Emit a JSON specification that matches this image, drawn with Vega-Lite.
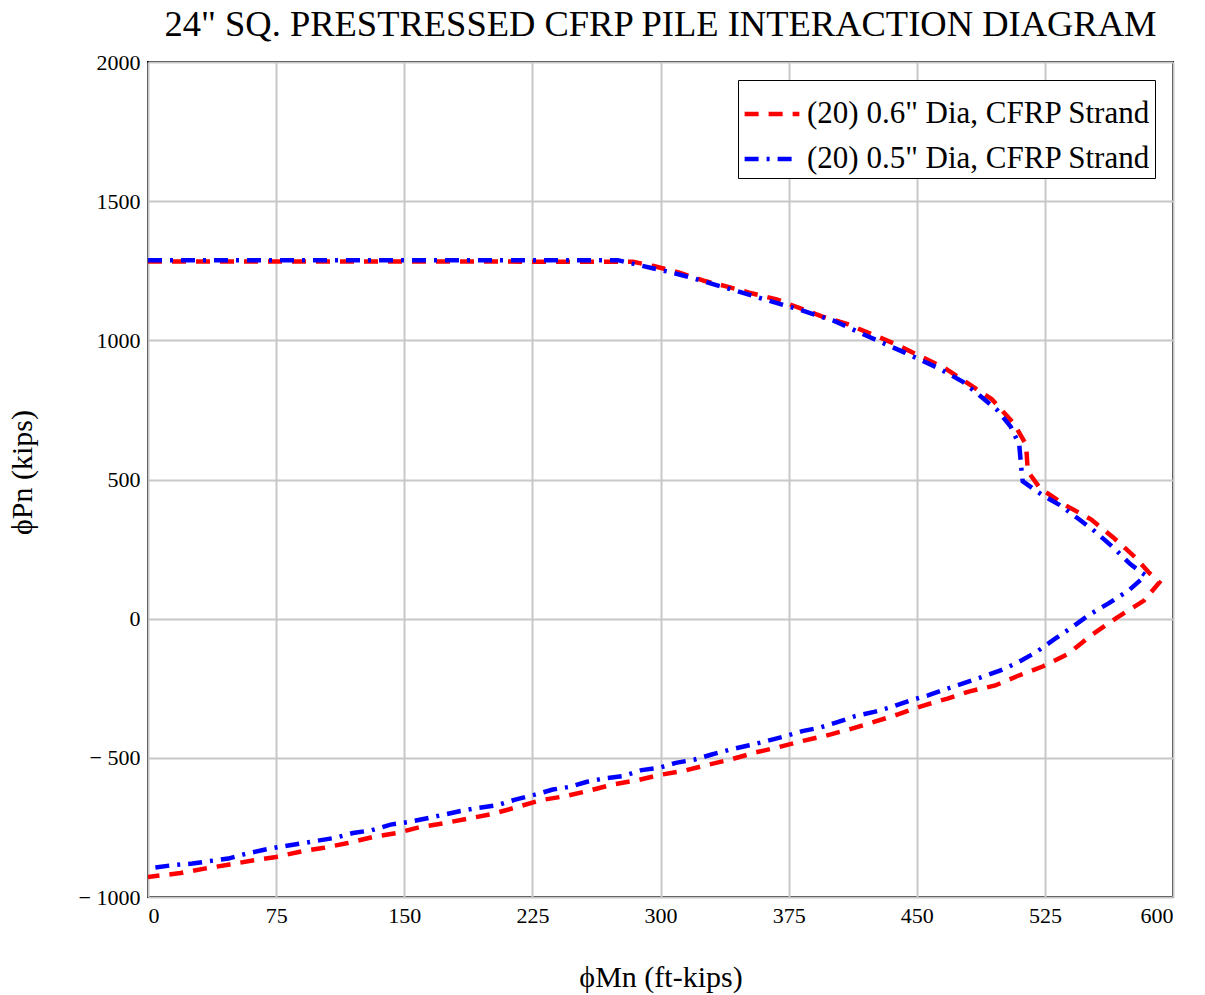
{
  "$schema": "https://vega.github.io/schema/vega-lite/v6.json",
  "width": 1025,
  "height": 835,
  "autosize": "none",
  "padding": {"left": 148, "top": 62, "right": 32, "bottom": 98},
  "background": "white",
  "title": {
    "text": "24\" SQ. PRESTRESSED CFRP PILE INTERACTION DIAGRAM",
    "font": "Liberation Serif",
    "fontSize": 36.5,
    "fontWeight": "normal",
    "color": "black",
    "anchor": "middle",
    "frame": "group",
    "offset": 8
  },
  "config": {
    "view": {"stroke": "black", "strokeWidth": 2},
    "axis": {
      "labelFont": "Liberation Serif",
      "labelFontSize": 22,
      "labelColor": "black",
      "titleFont": "Liberation Serif",
      "titleFontSize": 30,
      "titleFontWeight": "normal",
      "titleColor": "black",
      "gridColor": "#c8c8c8",
      "gridWidth": 2,
      "gridOpacity": 1,
      "domain": false,
      "ticks": false
    },
    "legend": {
      "orient": "top-right",
      "offset": 18,
      "title": null,
      "labelFont": "Liberation Serif",
      "labelFontSize": 31,
      "labelColor": "black",
      "labelLimit": 800,
      "labelOffset": 5,
      "symbolType": "stroke",
      "symbolSize": 3000,
      "symbolStrokeWidth": 4.5,
      "strokeColor": "black",
      "fillColor": "white",
      "padding": 4,
      "rowPadding": -20
    }
  },
  "data": {
    "values": [
      {"s": "(20) 0.6\" Dia, CFRP Strand", "i": 1, "x": 0, "y": 1283},
      {"s": "(20) 0.6\" Dia, CFRP Strand", "i": 2, "x": 100, "y": 1283},
      {"s": "(20) 0.6\" Dia, CFRP Strand", "i": 3, "x": 200, "y": 1283},
      {"s": "(20) 0.6\" Dia, CFRP Strand", "i": 4, "x": 284, "y": 1282},
      {"s": "(20) 0.6\" Dia, CFRP Strand", "i": 5, "x": 296, "y": 1267},
      {"s": "(20) 0.6\" Dia, CFRP Strand", "i": 6, "x": 311, "y": 1243},
      {"s": "(20) 0.6\" Dia, CFRP Strand", "i": 7, "x": 326, "y": 1213},
      {"s": "(20) 0.6\" Dia, CFRP Strand", "i": 8, "x": 338, "y": 1195},
      {"s": "(20) 0.6\" Dia, CFRP Strand", "i": 9, "x": 352, "y": 1171},
      {"s": "(20) 0.6\" Dia, CFRP Strand", "i": 10, "x": 368, "y": 1147},
      {"s": "(20) 0.6\" Dia, CFRP Strand", "i": 11, "x": 394, "y": 1087},
      {"s": "(20) 0.6\" Dia, CFRP Strand", "i": 12, "x": 410, "y": 1057},
      {"s": "(20) 0.6\" Dia, CFRP Strand", "i": 13, "x": 437, "y": 988},
      {"s": "(20) 0.6\" Dia, CFRP Strand", "i": 14, "x": 453, "y": 940},
      {"s": "(20) 0.6\" Dia, CFRP Strand", "i": 15, "x": 466, "y": 902},
      {"s": "(20) 0.6\" Dia, CFRP Strand", "i": 16, "x": 480, "y": 845},
      {"s": "(20) 0.6\" Dia, CFRP Strand", "i": 17, "x": 494, "y": 788},
      {"s": "(20) 0.6\" Dia, CFRP Strand", "i": 18, "x": 507, "y": 700},
      {"s": "(20) 0.6\" Dia, CFRP Strand", "i": 19, "x": 514, "y": 625},
      {"s": "(20) 0.6\" Dia, CFRP Strand", "i": 20, "x": 515, "y": 530},
      {"s": "(20) 0.6\" Dia, CFRP Strand", "i": 21, "x": 522, "y": 470},
      {"s": "(20) 0.6\" Dia, CFRP Strand", "i": 22, "x": 536, "y": 411},
      {"s": "(20) 0.6\" Dia, CFRP Strand", "i": 23, "x": 552, "y": 357},
      {"s": "(20) 0.6\" Dia, CFRP Strand", "i": 24, "x": 565, "y": 292},
      {"s": "(20) 0.6\" Dia, CFRP Strand", "i": 25, "x": 578, "y": 220},
      {"s": "(20) 0.6\" Dia, CFRP Strand", "i": 26, "x": 586, "y": 165},
      {"s": "(20) 0.6\" Dia, CFRP Strand", "i": 27, "x": 592, "y": 130},
      {"s": "(20) 0.6\" Dia, CFRP Strand", "i": 28, "x": 583, "y": 65},
      {"s": "(20) 0.6\" Dia, CFRP Strand", "i": 29, "x": 567, "y": 3},
      {"s": "(20) 0.6\" Dia, CFRP Strand", "i": 30, "x": 552, "y": -60},
      {"s": "(20) 0.6\" Dia, CFRP Strand", "i": 31, "x": 539, "y": -125},
      {"s": "(20) 0.6\" Dia, CFRP Strand", "i": 32, "x": 524, "y": -171},
      {"s": "(20) 0.6\" Dia, CFRP Strand", "i": 33, "x": 509, "y": -206},
      {"s": "(20) 0.6\" Dia, CFRP Strand", "i": 34, "x": 496, "y": -240},
      {"s": "(20) 0.6\" Dia, CFRP Strand", "i": 35, "x": 481, "y": -261},
      {"s": "(20) 0.6\" Dia, CFRP Strand", "i": 36, "x": 468, "y": -287},
      {"s": "(20) 0.6\" Dia, CFRP Strand", "i": 37, "x": 453, "y": -314},
      {"s": "(20) 0.6\" Dia, CFRP Strand", "i": 38, "x": 439, "y": -344},
      {"s": "(20) 0.6\" Dia, CFRP Strand", "i": 39, "x": 425, "y": -371},
      {"s": "(20) 0.6\" Dia, CFRP Strand", "i": 40, "x": 412, "y": -395},
      {"s": "(20) 0.6\" Dia, CFRP Strand", "i": 41, "x": 397, "y": -420},
      {"s": "(20) 0.6\" Dia, CFRP Strand", "i": 42, "x": 384, "y": -438},
      {"s": "(20) 0.6\" Dia, CFRP Strand", "i": 43, "x": 369, "y": -462},
      {"s": "(20) 0.6\" Dia, CFRP Strand", "i": 44, "x": 356, "y": -480},
      {"s": "(20) 0.6\" Dia, CFRP Strand", "i": 45, "x": 341, "y": -506},
      {"s": "(20) 0.6\" Dia, CFRP Strand", "i": 46, "x": 327, "y": -526},
      {"s": "(20) 0.6\" Dia, CFRP Strand", "i": 47, "x": 314, "y": -546},
      {"s": "(20) 0.6\" Dia, CFRP Strand", "i": 48, "x": 299, "y": -562},
      {"s": "(20) 0.6\" Dia, CFRP Strand", "i": 49, "x": 286, "y": -581},
      {"s": "(20) 0.6\" Dia, CFRP Strand", "i": 50, "x": 272, "y": -596},
      {"s": "(20) 0.6\" Dia, CFRP Strand", "i": 51, "x": 257, "y": -620},
      {"s": "(20) 0.6\" Dia, CFRP Strand", "i": 52, "x": 244, "y": -638},
      {"s": "(20) 0.6\" Dia, CFRP Strand", "i": 53, "x": 230, "y": -652},
      {"s": "(20) 0.6\" Dia, CFRP Strand", "i": 54, "x": 216, "y": -677},
      {"s": "(20) 0.6\" Dia, CFRP Strand", "i": 55, "x": 202, "y": -701},
      {"s": "(20) 0.6\" Dia, CFRP Strand", "i": 56, "x": 187, "y": -719},
      {"s": "(20) 0.6\" Dia, CFRP Strand", "i": 57, "x": 174, "y": -734},
      {"s": "(20) 0.6\" Dia, CFRP Strand", "i": 58, "x": 159, "y": -749},
      {"s": "(20) 0.6\" Dia, CFRP Strand", "i": 59, "x": 146, "y": -770},
      {"s": "(20) 0.6\" Dia, CFRP Strand", "i": 60, "x": 132, "y": -784},
      {"s": "(20) 0.6\" Dia, CFRP Strand", "i": 61, "x": 117, "y": -806},
      {"s": "(20) 0.6\" Dia, CFRP Strand", "i": 62, "x": 103, "y": -823},
      {"s": "(20) 0.6\" Dia, CFRP Strand", "i": 63, "x": 90, "y": -836},
      {"s": "(20) 0.6\" Dia, CFRP Strand", "i": 64, "x": 75, "y": -856},
      {"s": "(20) 0.6\" Dia, CFRP Strand", "i": 65, "x": 62, "y": -868},
      {"s": "(20) 0.6\" Dia, CFRP Strand", "i": 66, "x": 47, "y": -884},
      {"s": "(20) 0.6\" Dia, CFRP Strand", "i": 67, "x": 33, "y": -898},
      {"s": "(20) 0.6\" Dia, CFRP Strand", "i": 68, "x": 19, "y": -914},
      {"s": "(20) 0.6\" Dia, CFRP Strand", "i": 69, "x": 0, "y": -928},
      {"s": "(20) 0.5\" Dia, CFRP Strand", "i": 1, "x": 0, "y": 1288},
      {"s": "(20) 0.5\" Dia, CFRP Strand", "i": 2, "x": 100, "y": 1288},
      {"s": "(20) 0.5\" Dia, CFRP Strand", "i": 3, "x": 200, "y": 1288},
      {"s": "(20) 0.5\" Dia, CFRP Strand", "i": 4, "x": 275, "y": 1288},
      {"s": "(20) 0.5\" Dia, CFRP Strand", "i": 5, "x": 296, "y": 1258},
      {"s": "(20) 0.5\" Dia, CFRP Strand", "i": 6, "x": 307, "y": 1243},
      {"s": "(20) 0.5\" Dia, CFRP Strand", "i": 7, "x": 318, "y": 1225},
      {"s": "(20) 0.5\" Dia, CFRP Strand", "i": 8, "x": 338, "y": 1189},
      {"s": "(20) 0.5\" Dia, CFRP Strand", "i": 9, "x": 361, "y": 1147},
      {"s": "(20) 0.5\" Dia, CFRP Strand", "i": 10, "x": 381, "y": 1111},
      {"s": "(20) 0.5\" Dia, CFRP Strand", "i": 11, "x": 402, "y": 1069},
      {"s": "(20) 0.5\" Dia, CFRP Strand", "i": 12, "x": 423, "y": 1010},
      {"s": "(20) 0.5\" Dia, CFRP Strand", "i": 13, "x": 443, "y": 956},
      {"s": "(20) 0.5\" Dia, CFRP Strand", "i": 14, "x": 464, "y": 896},
      {"s": "(20) 0.5\" Dia, CFRP Strand", "i": 15, "x": 477, "y": 851},
      {"s": "(20) 0.5\" Dia, CFRP Strand", "i": 16, "x": 486, "y": 806},
      {"s": "(20) 0.5\" Dia, CFRP Strand", "i": 17, "x": 497, "y": 750},
      {"s": "(20) 0.5\" Dia, CFRP Strand", "i": 18, "x": 505, "y": 690},
      {"s": "(20) 0.5\" Dia, CFRP Strand", "i": 19, "x": 510, "y": 625},
      {"s": "(20) 0.5\" Dia, CFRP Strand", "i": 20, "x": 511, "y": 554},
      {"s": "(20) 0.5\" Dia, CFRP Strand", "i": 21, "x": 512, "y": 494},
      {"s": "(20) 0.5\" Dia, CFRP Strand", "i": 22, "x": 523, "y": 446},
      {"s": "(20) 0.5\" Dia, CFRP Strand", "i": 23, "x": 533, "y": 411},
      {"s": "(20) 0.5\" Dia, CFRP Strand", "i": 24, "x": 545, "y": 357},
      {"s": "(20) 0.5\" Dia, CFRP Strand", "i": 25, "x": 554, "y": 315},
      {"s": "(20) 0.5\" Dia, CFRP Strand", "i": 26, "x": 565, "y": 256},
      {"s": "(20) 0.5\" Dia, CFRP Strand", "i": 27, "x": 575, "y": 196},
      {"s": "(20) 0.5\" Dia, CFRP Strand", "i": 28, "x": 584, "y": 155},
      {"s": "(20) 0.5\" Dia, CFRP Strand", "i": 29, "x": 574, "y": 101},
      {"s": "(20) 0.5\" Dia, CFRP Strand", "i": 30, "x": 562, "y": 54},
      {"s": "(20) 0.5\" Dia, CFRP Strand", "i": 31, "x": 551, "y": 14},
      {"s": "(20) 0.5\" Dia, CFRP Strand", "i": 32, "x": 541, "y": -30},
      {"s": "(20) 0.5\" Dia, CFRP Strand", "i": 33, "x": 531, "y": -72},
      {"s": "(20) 0.5\" Dia, CFRP Strand", "i": 34, "x": 520, "y": -120},
      {"s": "(20) 0.5\" Dia, CFRP Strand", "i": 35, "x": 509, "y": -158},
      {"s": "(20) 0.5\" Dia, CFRP Strand", "i": 36, "x": 499, "y": -186},
      {"s": "(20) 0.5\" Dia, CFRP Strand", "i": 37, "x": 488, "y": -210},
      {"s": "(20) 0.5\" Dia, CFRP Strand", "i": 38, "x": 478, "y": -231},
      {"s": "(20) 0.5\" Dia, CFRP Strand", "i": 39, "x": 468, "y": -251},
      {"s": "(20) 0.5\" Dia, CFRP Strand", "i": 40, "x": 457, "y": -275},
      {"s": "(20) 0.5\" Dia, CFRP Strand", "i": 41, "x": 446, "y": -294},
      {"s": "(20) 0.5\" Dia, CFRP Strand", "i": 42, "x": 435, "y": -318},
      {"s": "(20) 0.5\" Dia, CFRP Strand", "i": 43, "x": 425, "y": -335},
      {"s": "(20) 0.5\" Dia, CFRP Strand", "i": 44, "x": 414, "y": -350},
      {"s": "(20) 0.5\" Dia, CFRP Strand", "i": 45, "x": 404, "y": -371},
      {"s": "(20) 0.5\" Dia, CFRP Strand", "i": 46, "x": 393, "y": -392},
      {"s": "(20) 0.5\" Dia, CFRP Strand", "i": 47, "x": 383, "y": -404},
      {"s": "(20) 0.5\" Dia, CFRP Strand", "i": 48, "x": 373, "y": -422},
      {"s": "(20) 0.5\" Dia, CFRP Strand", "i": 49, "x": 362, "y": -440},
      {"s": "(20) 0.5\" Dia, CFRP Strand", "i": 50, "x": 352, "y": -455},
      {"s": "(20) 0.5\" Dia, CFRP Strand", "i": 51, "x": 341, "y": -470},
      {"s": "(20) 0.5\" Dia, CFRP Strand", "i": 52, "x": 330, "y": -488},
      {"s": "(20) 0.5\" Dia, CFRP Strand", "i": 53, "x": 320, "y": -506},
      {"s": "(20) 0.5\" Dia, CFRP Strand", "i": 54, "x": 309, "y": -518},
      {"s": "(20) 0.5\" Dia, CFRP Strand", "i": 55, "x": 299, "y": -536},
      {"s": "(20) 0.5\" Dia, CFRP Strand", "i": 56, "x": 289, "y": -544},
      {"s": "(20) 0.5\" Dia, CFRP Strand", "i": 57, "x": 278, "y": -566},
      {"s": "(20) 0.5\" Dia, CFRP Strand", "i": 58, "x": 267, "y": -574},
      {"s": "(20) 0.5\" Dia, CFRP Strand", "i": 59, "x": 257, "y": -586},
      {"s": "(20) 0.5\" Dia, CFRP Strand", "i": 60, "x": 247, "y": -604},
      {"s": "(20) 0.5\" Dia, CFRP Strand", "i": 61, "x": 237, "y": -614},
      {"s": "(20) 0.5\" Dia, CFRP Strand", "i": 62, "x": 226, "y": -633},
      {"s": "(20) 0.5\" Dia, CFRP Strand", "i": 63, "x": 215, "y": -650},
      {"s": "(20) 0.5\" Dia, CFRP Strand", "i": 64, "x": 204, "y": -671},
      {"s": "(20) 0.5\" Dia, CFRP Strand", "i": 65, "x": 194, "y": -679},
      {"s": "(20) 0.5\" Dia, CFRP Strand", "i": 66, "x": 183, "y": -691},
      {"s": "(20) 0.5\" Dia, CFRP Strand", "i": 67, "x": 174, "y": -703},
      {"s": "(20) 0.5\" Dia, CFRP Strand", "i": 68, "x": 162, "y": -719},
      {"s": "(20) 0.5\" Dia, CFRP Strand", "i": 69, "x": 152, "y": -731},
      {"s": "(20) 0.5\" Dia, CFRP Strand", "i": 70, "x": 142, "y": -740},
      {"s": "(20) 0.5\" Dia, CFRP Strand", "i": 71, "x": 131, "y": -760},
      {"s": "(20) 0.5\" Dia, CFRP Strand", "i": 72, "x": 120, "y": -770},
      {"s": "(20) 0.5\" Dia, CFRP Strand", "i": 73, "x": 110, "y": -787},
      {"s": "(20) 0.5\" Dia, CFRP Strand", "i": 74, "x": 98, "y": -799},
      {"s": "(20) 0.5\" Dia, CFRP Strand", "i": 75, "x": 89, "y": -808},
      {"s": "(20) 0.5\" Dia, CFRP Strand", "i": 76, "x": 77, "y": -820},
      {"s": "(20) 0.5\" Dia, CFRP Strand", "i": 77, "x": 68, "y": -830},
      {"s": "(20) 0.5\" Dia, CFRP Strand", "i": 78, "x": 56, "y": -847},
      {"s": "(20) 0.5\" Dia, CFRP Strand", "i": 79, "x": 47, "y": -862},
      {"s": "(20) 0.5\" Dia, CFRP Strand", "i": 80, "x": 36, "y": -871},
      {"s": "(20) 0.5\" Dia, CFRP Strand", "i": 81, "x": 26, "y": -880},
      {"s": "(20) 0.5\" Dia, CFRP Strand", "i": 82, "x": 14, "y": -886},
      {"s": "(20) 0.5\" Dia, CFRP Strand", "i": 83, "x": 3, "y": -895}
    ]
  },
  "mark": {"type": "line", "strokeWidth": 4.5, "strokeCap": "butt", "clip": true},
  "encoding": {
    "x": {
      "field": "x",
      "type": "quantitative",
      "scale": {"domain": [0, 600], "nice": false, "zero": false},
      "axis": {
        "values": [0, 75, 150, 225, 300, 375, 450, 525, 600],
        "grid": true,
        "title": "ϕMn (ft-kips)",
        "labelPadding": 8,
        "titleY": 89,
        "titleBaseline": "alphabetic"
      }
    },
    "y": {
      "field": "y",
      "type": "quantitative",
      "scale": {"domain": [-1000, 2000], "nice": false, "zero": false},
      "axis": {
        "values": [-1000, -500, 0, 500, 1000, 1500, 2000],
        "grid": true,
        "title": "ϕPn (kips)",
        "labelPadding": 8,
        "labelExpr": "datum.value < 0 ? '− ' + format(-datum.value, 'd') : format(datum.value, 'd')",
        "titleX": -126,
        "titleY": 410,
        "titleAngle": -90,
        "titleAlign": "center",
        "titleBaseline": "middle"
      }
    },
    "order": {"field": "i", "type": "quantitative"},
    "color": {
      "field": "s",
      "type": "nominal",
      "scale": {
        "domain": ["(20) 0.6\" Dia, CFRP Strand", "(20) 0.5\" Dia, CFRP Strand"],
        "range": ["#ff0000", "#0000ff"]
      }
    },
    "strokeDash": {
      "field": "s",
      "type": "nominal",
      "scale": {
        "domain": ["(20) 0.6\" Dia, CFRP Strand", "(20) 0.5\" Dia, CFRP Strand"],
        "range": [[14, 10], [14, 8, 3, 8]]
      }
    }
  }
}
